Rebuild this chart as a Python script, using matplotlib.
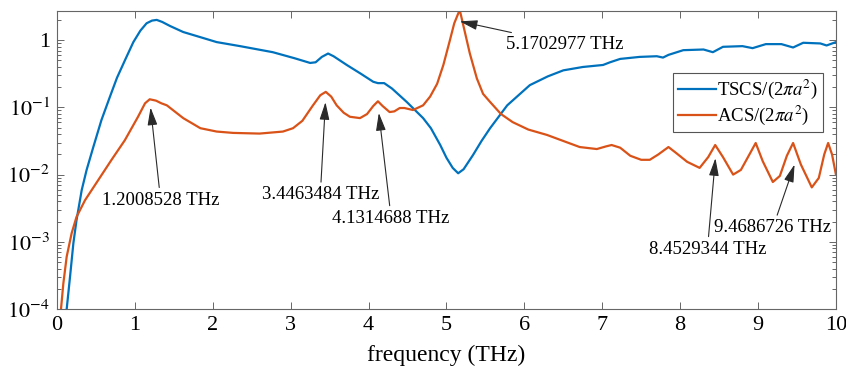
import numpy as np
import matplotlib
matplotlib.use("Agg")
import matplotlib.pyplot as plt
from matplotlib.ticker import LogLocator, FixedLocator, FuncFormatter, NullFormatter

plt.rcParams['font.family'] = ['Liberation Serif', 'DejaVu Serif']
plt.rcParams['mathtext.fontset'] = 'stix'

# TSCS/(2 pi a^2)
freq_tscs = [0.11, 0.124, 0.167, 0.21, 0.25, 0.317, 0.38, 0.466, 0.57, 0.68, 0.77, 0.88, 0.98,
             1.07, 1.15, 1.22, 1.28, 1.35, 1.45, 1.62, 1.85, 2.05, 2.35, 2.77, 3.05,
             3.25, 3.32, 3.40, 3.48, 3.55, 3.72, 3.90, 4.06, 4.12, 4.20, 4.30, 4.49,
             4.70, 4.80, 4.92, 5.00, 5.08, 5.15, 5.22, 5.34, 5.45, 5.56, 5.78, 6.07,
             6.30, 6.50, 6.75, 7.01, 7.10, 7.23, 7.48, 7.70, 7.78, 7.85, 8.04, 8.30,
             8.42, 8.55, 8.80, 8.93, 9.10, 9.30, 9.45, 9.58, 9.80, 9.88, 10.0]
tscs_log = [-4.3, -4.0, -3.52, -3.02, -2.68, -2.23, -1.93, -1.59, -1.19, -0.84, -0.56, -0.28, -0.03,
            0.14, 0.25, 0.29, 0.30, 0.27, 0.21, 0.12, 0.04, -0.03, -0.09, -0.18, -0.27,
            -0.34, -0.33, -0.25, -0.20, -0.24, -0.37, -0.50, -0.62, -0.64, -0.64, -0.72, -0.92,
            -1.16, -1.31, -1.56, -1.75, -1.90, -1.98, -1.92, -1.71, -1.50, -1.31, -0.97, -0.67,
            -0.54, -0.45, -0.40, -0.37, -0.33, -0.28, -0.25, -0.24, -0.26, -0.22, -0.15, -0.14,
            -0.18, -0.10, -0.09, -0.12, -0.06, -0.06, -0.11, -0.04, -0.05, -0.08, -0.03]

# ACS/(2 pi a^2)
freq_acs = [0.045, 0.051, 0.081, 0.124, 0.188, 0.25, 0.36, 0.53, 0.70, 0.87, 1.04,
            1.13, 1.19, 1.27, 1.34, 1.41, 1.62, 1.84, 2.05, 2.26, 2.60, 2.90, 3.03, 3.15,
            3.28, 3.38, 3.45, 3.52, 3.59, 3.68, 3.76, 3.89, 3.98, 4.06, 4.12, 4.18,
            4.27, 4.33, 4.40, 4.46, 4.57, 4.70, 4.79, 4.88, 4.96, 5.04, 5.10, 5.17,
            5.24, 5.30, 5.39, 5.47, 5.56, 5.70, 5.85, 6.05, 6.29, 6.50, 6.71, 6.93,
            7.05, 7.12, 7.23, 7.36, 7.50, 7.61, 7.72, 7.85, 7.95, 8.09, 8.25, 8.36,
            8.45, 8.55, 8.68, 8.78, 8.88, 8.97, 9.06, 9.19, 9.28, 9.37, 9.45, 9.55,
            9.69, 9.78, 9.85, 9.90, 9.95, 10.0]
acs_log = [-4.2, -4.0, -3.62, -3.22, -2.87, -2.63, -2.38, -2.08, -1.78, -1.49, -1.14,
           -0.94, -0.88, -0.90, -0.94, -0.97, -1.16, -1.31, -1.36, -1.38, -1.39, -1.36, -1.31, -1.20,
           -0.98, -0.82, -0.77, -0.84, -0.97, -1.08, -1.14, -1.16, -1.10, -0.98, -0.91, -0.98,
           -1.07, -1.06, -1.01, -1.01, -1.04, -0.97, -0.84, -0.65, -0.37, -0.02, 0.25, 0.45,
           0.10, -0.20, -0.57, -0.80, -0.92, -1.10, -1.22, -1.33, -1.41, -1.50, -1.59, -1.62,
           -1.58, -1.56, -1.60, -1.72, -1.78, -1.78, -1.70, -1.59, -1.68, -1.81, -1.90, -1.74,
           -1.56, -1.74, -2.00, -1.93, -1.72, -1.53, -1.80, -2.11, -2.02, -1.72, -1.53, -1.85,
           -2.19, -2.05, -1.70, -1.53, -1.70, -2.0]

peak_freqs = [1.2008528, 3.4463484, 4.1314688, 5.1702977, 8.4529344, 9.4686726]
peak_labels = [f"{p:.7f} THz" for p in peak_freqs]
# label centres (frequency, log10 value)
label_pos = [(1.33, -2.38), (3.38, -2.30), (4.29, -2.65), (6.52, -0.06), (8.35, -3.11), (9.19, -2.79)]
tip_drop = [0.12, 0.15, 0.16, 0.17, 0.19, 0.26]

tscs = 10 ** np.array(tscs_log)
acs = 10 ** np.array(acs_log)

fig = plt.figure(figsize=(8.46, 3.72), dpi=100)
ax = fig.add_axes([0.0674, 0.169, 0.9207, 0.801])

ax.plot(freq_tscs, tscs, color='#0072BD', lw=1.6, label=r'TSCS/(2$\pi a^2$)')
ax.plot(freq_acs, acs, color='#D95319', lw=1.6, label=r'ACS/(2$\pi a^2$)')

ax.set_yscale('log')
ax.set_xlim(0, 10)
ax.set_ylim(1e-4, 10 ** 0.43)

ax.xaxis.set_major_locator(FixedLocator(range(11)))
ax.yaxis.set_major_locator(FixedLocator([1e-4, 1e-3, 1e-2, 1e-1, 1]))
ax.yaxis.set_minor_locator(LogLocator(base=10, subs=np.arange(2, 10)))
ax.yaxis.set_minor_formatter(NullFormatter())


def yfmt(v, pos):
    e = int(round(np.log10(v)))
    if e == 0:
        return '1'
    return r'$10^{%d}$' % e


ax.yaxis.set_major_formatter(FuncFormatter(yfmt))

spine_c = '#666666'
for s in ax.spines.values():
    s.set_color(spine_c)
    s.set_linewidth(0.8)
ax.tick_params(which='both', direction='in', top=True, right=True, color=spine_c, width=0.7)
ax.tick_params(which='major', length=5, labelsize=16, pad=5)
ax.tick_params(which='minor', length=3)

ax.set_xlabel('frequency (THz)', fontsize=17, labelpad=7)

fl = np.array(freq_acs)
al = np.array(acs_log)
for pf, lab, (tx, ty), drop in zip(peak_freqs, peak_labels, label_pos, tip_drop):
    tip_y = 10 ** (np.interp(pf, fl, al) - drop)
    ax.annotate(lab, xy=(pf, tip_y), xytext=(tx, 10 ** ty), ha='center', va='center',
                fontsize=13.5,
                arrowprops=dict(arrowstyle='-|>,head_width=0.25,head_length=0.9',
                                color='#2a2a2a', lw=0.8, shrinkA=1, shrinkB=0,
                                mutation_scale=12))

leg = ax.legend(loc='upper right', bbox_to_anchor=(0.983, 0.792), fontsize=13.5,
                frameon=True, fancybox=False, edgecolor='#555555', framealpha=1,
                handlelength=2.0, handletextpad=0.1, borderpad=0.25, labelspacing=0.15,
                borderaxespad=0)
leg.get_frame().set_linewidth(0.8)

fig.savefig('out.png', dpi=100)
